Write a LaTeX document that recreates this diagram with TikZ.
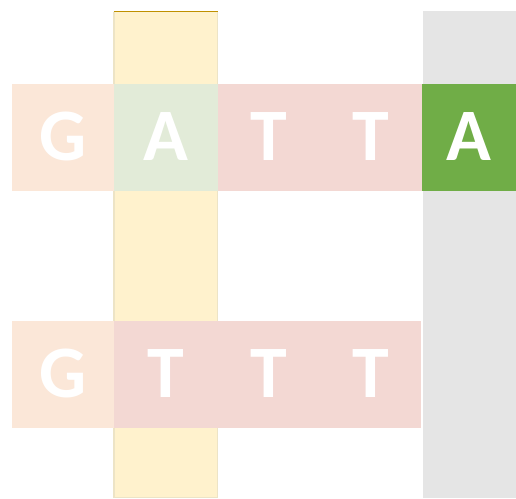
\documentclass[tikz,border=0pt]{standalone}
\usepackage{fontspec}
\setmainfont{Carlito}
\definecolor{cOrange}{HTML}{FBE7D8}
\definecolor{cLGreen}{HTML}{E2EBD8}
\definecolor{cRed}{HTML}{F3D8D3}
\definecolor{cGreen}{HTML}{70AD47}
\definecolor{cGrey}{HTML}{E5E5E5}
\definecolor{cYellow}{HTML}{FFF2CD}
\definecolor{cYBorder}{HTML}{EDE4C6}
\definecolor{cGold}{HTML}{BF9000}
\tikzset{
  cell/.style={rectangle, inner sep=0pt, outer sep=0pt, anchor=north west,
    minimum height=106.7pt, text=white,
    font=\fontsize{74}{74}\selectfont\bfseries, text height=47pt, text depth=0pt},
}
\begin{document}
\begin{tikzpicture}[x=1pt,y=-1pt]
\useasboundingbox (0,0) rectangle (516,498);
% columns
\fill[cYellow] (113.5,11) rectangle (218,497.7);
\draw[cYBorder, line width=1.2pt] (114,11.5) -- (114,497.2) -- (217.5,497.2) -- (217.5,11.5);
\draw[cGold, line width=1pt] (113.5,11.5) -- (218,11.5);
\fill[cGrey] (422.5,11) rectangle (516,498);
% top row
\node[cell, fill=cOrange, minimum width=101.5pt] (g1) at (12,84) {G};
\node[cell, fill=cLGreen, minimum width=104.5pt] (a1) at (113.5,84) {A};
\node[cell, fill=cRed, minimum width=102pt] (t1) at (218,84) {T};
\node[cell, fill=cRed, minimum width=101.5pt] (t2) at (320,84) {T};
\node[cell, fill=cGreen, minimum width=94.5pt] (a2) at (421.5,84) {A};
% bottom row
\node[cell, fill=cOrange, minimum width=101.5pt] (g2) at (12,321) {G};
\node[cell, fill=cRed, minimum width=104.5pt] (t3) at (113.5,321) {T};
\node[cell, fill=cRed, minimum width=102pt] (t4) at (218,321) {T};
\node[cell, fill=cRed, minimum width=101pt] (t5) at (320,321) {T};
\end{tikzpicture}
\end{document}
